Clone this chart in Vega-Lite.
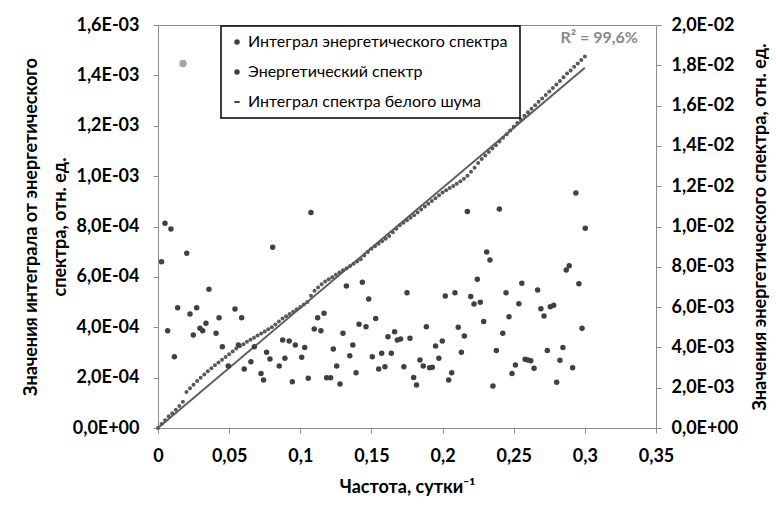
{
  "$schema": "https://vega.github.io/schema/vega-lite/v6.json",
  "autosize": {"type": "none"},
  "padding": {"left": 158, "top": 25, "right": 120, "bottom": 85},
  "width": 498,
  "height": 403,
  "background": "white",
  "config": {
    "font": "Lato",
    "view": {"stroke": "#8c8c8c", "strokeWidth": 1},
    "axis": {
      "grid": false,
      "domainColor": "#8c8c8c",
      "tickColor": "#8c8c8c",
      "tickSize": 5,
      "labelFont": "Lato",
      "labelFontWeight": "bold",
      "labelFontSize": 18,
      "labelColor": "#000000",
      "labelFlush": false,
      "labelOverlap": false,
      "titleFont": "Lato",
      "titleFontWeight": "bold",
      "titleFontSize": 18,
      "titleColor": "#000000"
    },
    "legend": {
      "orient": "none",
      "legendX": 63,
      "legendY": 1,
      "padding": 8,
      "strokeColor": "#000000",
      "strokeWidth": 1.5,
      "fillColor": "#ffffff",
      "labelFont": "Lato",
      "labelFontSize": 16,
      "labelLimit": 400,
      "labelColor": "#000000",
      "labelOffset": 3,
      "rowPadding": 14
    }
  },
  "datasets": {
    "integral": [
      {"f": 0, "v": 0},
      {"f": 0.0025, "v": 0.016e-3},
      {"f": 0.005, "v": 0.031e-3},
      {"f": 0.0075, "v": 0.047e-3},
      {"f": 0.01, "v": 0.059e-3},
      {"f": 0.0125, "v": 0.072e-3},
      {"f": 0.015, "v": 0.087e-3},
      {"f": 0.0175, "v": 0.104e-3},
      {"f": 0.02, "v": 0.143e-3},
      {"f": 0.0225, "v": 0.158e-3},
      {"f": 0.025, "v": 0.172e-3},
      {"f": 0.0275, "v": 0.187e-3},
      {"f": 0.03, "v": 0.2e-3},
      {"f": 0.0325, "v": 0.212e-3},
      {"f": 0.035, "v": 0.225e-3},
      {"f": 0.0375, "v": 0.237e-3},
      {"f": 0.04, "v": 0.249e-3},
      {"f": 0.0425, "v": 0.26e-3},
      {"f": 0.045, "v": 0.271e-3},
      {"f": 0.0475, "v": 0.282e-3},
      {"f": 0.05, "v": 0.293e-3},
      {"f": 0.0525, "v": 0.304e-3},
      {"f": 0.055, "v": 0.316e-3},
      {"f": 0.0575, "v": 0.325e-3},
      {"f": 0.06, "v": 0.333e-3},
      {"f": 0.0625, "v": 0.342e-3},
      {"f": 0.065, "v": 0.35e-3},
      {"f": 0.0675, "v": 0.358e-3},
      {"f": 0.07, "v": 0.367e-3},
      {"f": 0.0725, "v": 0.375e-3},
      {"f": 0.075, "v": 0.383e-3},
      {"f": 0.0775, "v": 0.392e-3},
      {"f": 0.08, "v": 0.4e-3},
      {"f": 0.0825, "v": 0.411e-3},
      {"f": 0.085, "v": 0.423e-3},
      {"f": 0.0875, "v": 0.435e-3},
      {"f": 0.09, "v": 0.444e-3},
      {"f": 0.0925, "v": 0.453e-3},
      {"f": 0.095, "v": 0.462e-3},
      {"f": 0.0975, "v": 0.471e-3},
      {"f": 0.1, "v": 0.48e-3},
      {"f": 0.1025, "v": 0.49e-3},
      {"f": 0.105, "v": 0.5e-3},
      {"f": 0.1075, "v": 0.525e-3},
      {"f": 0.11, "v": 0.545e-3},
      {"f": 0.1125, "v": 0.558e-3},
      {"f": 0.115, "v": 0.571e-3},
      {"f": 0.1175, "v": 0.582e-3},
      {"f": 0.12, "v": 0.591e-3},
      {"f": 0.1225, "v": 0.599e-3},
      {"f": 0.125, "v": 0.608e-3},
      {"f": 0.1275, "v": 0.617e-3},
      {"f": 0.13, "v": 0.626e-3},
      {"f": 0.1325, "v": 0.634e-3},
      {"f": 0.135, "v": 0.643e-3},
      {"f": 0.1375, "v": 0.652e-3},
      {"f": 0.14, "v": 0.661e-3},
      {"f": 0.1425, "v": 0.67e-3},
      {"f": 0.145, "v": 0.685e-3},
      {"f": 0.1475, "v": 0.699e-3},
      {"f": 0.15, "v": 0.712e-3},
      {"f": 0.1525, "v": 0.722e-3},
      {"f": 0.155, "v": 0.732e-3},
      {"f": 0.1575, "v": 0.741e-3},
      {"f": 0.16, "v": 0.751e-3},
      {"f": 0.1625, "v": 0.762e-3},
      {"f": 0.165, "v": 0.777e-3},
      {"f": 0.1675, "v": 0.791e-3},
      {"f": 0.17, "v": 0.805e-3},
      {"f": 0.1725, "v": 0.815e-3},
      {"f": 0.175, "v": 0.825e-3},
      {"f": 0.1775, "v": 0.835e-3},
      {"f": 0.18, "v": 0.845e-3},
      {"f": 0.1825, "v": 0.856e-3},
      {"f": 0.185, "v": 0.867e-3},
      {"f": 0.1875, "v": 0.879e-3},
      {"f": 0.19, "v": 0.89e-3},
      {"f": 0.1925, "v": 0.901e-3},
      {"f": 0.195, "v": 0.912e-3},
      {"f": 0.1975, "v": 0.924e-3},
      {"f": 0.2, "v": 0.935e-3},
      {"f": 0.2025, "v": 0.944e-3},
      {"f": 0.205, "v": 0.953e-3},
      {"f": 0.2075, "v": 0.961e-3},
      {"f": 0.21, "v": 0.97e-3},
      {"f": 0.2125, "v": 0.98e-3},
      {"f": 0.215, "v": 0.99e-3},
      {"f": 0.2175, "v": 1.001e-3},
      {"f": 0.22, "v": 1.017e-3},
      {"f": 0.2225, "v": 1.033e-3},
      {"f": 0.225, "v": 1.052e-3},
      {"f": 0.2275, "v": 1.068e-3},
      {"f": 0.23, "v": 1.082e-3},
      {"f": 0.2325, "v": 1.096e-3},
      {"f": 0.235, "v": 1.11e-3},
      {"f": 0.2375, "v": 1.123e-3},
      {"f": 0.24, "v": 1.137e-3},
      {"f": 0.2425, "v": 1.152e-3},
      {"f": 0.245, "v": 1.166e-3},
      {"f": 0.2475, "v": 1.181e-3},
      {"f": 0.25, "v": 1.196e-3},
      {"f": 0.2525, "v": 1.211e-3},
      {"f": 0.255, "v": 1.225e-3},
      {"f": 0.2575, "v": 1.24e-3},
      {"f": 0.26, "v": 1.254e-3},
      {"f": 0.2625, "v": 1.267e-3},
      {"f": 0.265, "v": 1.281e-3},
      {"f": 0.2675, "v": 1.295e-3},
      {"f": 0.27, "v": 1.308e-3},
      {"f": 0.2725, "v": 1.322e-3},
      {"f": 0.275, "v": 1.336e-3},
      {"f": 0.2775, "v": 1.35e-3},
      {"f": 0.28, "v": 1.364e-3},
      {"f": 0.2825, "v": 1.378e-3},
      {"f": 0.285, "v": 1.393e-3},
      {"f": 0.2875, "v": 1.407e-3},
      {"f": 0.29, "v": 1.419e-3},
      {"f": 0.2925, "v": 1.434e-3},
      {"f": 0.295, "v": 1.447e-3},
      {"f": 0.2975, "v": 1.461e-3},
      {"f": 0.3, "v": 1.475e-3}
    ],
    "spectrum": [
      {"f": 0.0025, "v": 8.25e-3, "s": "b"},
      {"f": 0.0049, "v": 10.16e-3, "s": "b"},
      {"f": 0.0068, "v": 4.83e-3, "s": "b"},
      {"f": 0.0091, "v": 9.88e-3, "s": "b"},
      {"f": 0.0115, "v": 3.54e-3, "s": "b"},
      {"f": 0.0138, "v": 5.97e-3, "s": "b"},
      {"f": 0.0202, "v": 8.67e-3, "s": "b"},
      {"f": 0.0225, "v": 5.66e-3, "s": "b"},
      {"f": 0.0248, "v": 4.62e-3, "s": "b"},
      {"f": 0.0272, "v": 5.97e-3, "s": "b"},
      {"f": 0.0295, "v": 4.95e-3, "s": "b"},
      {"f": 0.0314, "v": 4.83e-3, "s": "b"},
      {"f": 0.0337, "v": 5.2e-3, "s": "b"},
      {"f": 0.0358, "v": 6.88e-3, "s": "b"},
      {"f": 0.0408, "v": 4.7e-3, "s": "b"},
      {"f": 0.0429, "v": 5.47e-3, "s": "b"},
      {"f": 0.0452, "v": 4.03e-3, "s": "b"},
      {"f": 0.0494, "v": 3.08e-3, "s": "b"},
      {"f": 0.0541, "v": 5.91e-3, "s": "b"},
      {"f": 0.0565, "v": 4.12e-3, "s": "b"},
      {"f": 0.0588, "v": 5.47e-3, "s": "b"},
      {"f": 0.0606, "v": 2.93e-3, "s": "b"},
      {"f": 0.0653, "v": 3.29e-3, "s": "b"},
      {"f": 0.0677, "v": 4.03e-3, "s": "b"},
      {"f": 0.0724, "v": 2.71e-3, "s": "b"},
      {"f": 0.0742, "v": 2.38e-3, "s": "b"},
      {"f": 0.0763, "v": 3.76e-3, "s": "b"},
      {"f": 0.0787, "v": 3.42e-3, "s": "b"},
      {"f": 0.0806, "v": 8.97e-3, "s": "b"},
      {"f": 0.0852, "v": 3.08e-3, "s": "b"},
      {"f": 0.0876, "v": 4.37e-3, "s": "b"},
      {"f": 0.0892, "v": 3.46e-3, "s": "b"},
      {"f": 0.0922, "v": 4.32e-3, "s": "b"},
      {"f": 0.0944, "v": 2.3e-3, "s": "b"},
      {"f": 0.0965, "v": 4.12e-3, "s": "b"},
      {"f": 0.101, "v": 3.51e-3, "s": "b"},
      {"f": 0.1031, "v": 4.0e-3, "s": "b"},
      {"f": 0.1056, "v": 2.47e-3, "s": "b"},
      {"f": 0.1075, "v": 10.7e-3, "s": "b"},
      {"f": 0.1098, "v": 4.91e-3, "s": "b"},
      {"f": 0.1122, "v": 5.47e-3, "s": "b"},
      {"f": 0.1145, "v": 4.83e-3, "s": "b"},
      {"f": 0.1167, "v": 5.69e-3, "s": "b"},
      {"f": 0.1185, "v": 2.5e-3, "s": "b"},
      {"f": 0.1213, "v": 2.5e-3, "s": "b"},
      {"f": 0.1232, "v": 3.92e-3, "s": "b"},
      {"f": 0.1256, "v": 3.08e-3, "s": "b"},
      {"f": 0.1279, "v": 2.18e-3, "s": "b"},
      {"f": 0.13, "v": 4.7e-3, "s": "b"},
      {"f": 0.1324, "v": 7.05e-3, "s": "b"},
      {"f": 0.1348, "v": 3.59e-3, "s": "b"},
      {"f": 0.1369, "v": 4.12e-3, "s": "b"},
      {"f": 0.1392, "v": 2.74e-3, "s": "b"},
      {"f": 0.1413, "v": 5.15e-3, "s": "b"},
      {"f": 0.1436, "v": 7.23e-3, "s": "b"},
      {"f": 0.1462, "v": 5.03e-3, "s": "b"},
      {"f": 0.1481, "v": 6.4e-3, "s": "b"},
      {"f": 0.1506, "v": 3.54e-3, "s": "b"},
      {"f": 0.153, "v": 5.44e-3, "s": "b"},
      {"f": 0.1551, "v": 2.93e-3, "s": "b"},
      {"f": 0.1572, "v": 3.71e-3, "s": "b"},
      {"f": 0.1595, "v": 3.04e-3, "s": "b"},
      {"f": 0.1616, "v": 4.53e-3, "s": "b"},
      {"f": 0.164, "v": 3.71e-3, "s": "b"},
      {"f": 0.1663, "v": 4.78e-3, "s": "b"},
      {"f": 0.1682, "v": 4.37e-3, "s": "b"},
      {"f": 0.1705, "v": 4.42e-3, "s": "b"},
      {"f": 0.1728, "v": 3.04e-3, "s": "b"},
      {"f": 0.175, "v": 6.71e-3, "s": "b"},
      {"f": 0.1771, "v": 4.45e-3, "s": "b"},
      {"f": 0.1797, "v": 2.51e-3, "s": "b"},
      {"f": 0.1817, "v": 2.13e-3, "s": "b"},
      {"f": 0.1841, "v": 3.37e-3, "s": "b"},
      {"f": 0.1864, "v": 3.08e-3, "s": "b"},
      {"f": 0.1886, "v": 5.03e-3, "s": "b"},
      {"f": 0.1909, "v": 2.99e-3, "s": "b"},
      {"f": 0.1928, "v": 3.01e-3, "s": "b"},
      {"f": 0.1951, "v": 4.07e-3, "s": "b"},
      {"f": 0.1974, "v": 3.46e-3, "s": "b"},
      {"f": 0.1998, "v": 4.32e-3, "s": "b"},
      {"f": 0.2019, "v": 6.55e-3, "s": "b"},
      {"f": 0.2043, "v": 2.38e-3, "s": "b"},
      {"f": 0.2064, "v": 2.74e-3, "s": "b"},
      {"f": 0.2087, "v": 6.71e-3, "s": "b"},
      {"f": 0.211, "v": 5.0e-3, "s": "b"},
      {"f": 0.2132, "v": 3.76e-3, "s": "b"},
      {"f": 0.2153, "v": 4.57e-3, "s": "b"},
      {"f": 0.2174, "v": 10.75e-3, "s": "b"},
      {"f": 0.2198, "v": 6.52e-3, "s": "b"},
      {"f": 0.2221, "v": 6.15e-3, "s": "b"},
      {"f": 0.2244, "v": 7.38e-3, "s": "b"},
      {"f": 0.2265, "v": 6.24e-3, "s": "b"},
      {"f": 0.2289, "v": 5.28e-3, "s": "b"},
      {"f": 0.231, "v": 8.73e-3, "s": "b"},
      {"f": 0.2333, "v": 8.34e-3, "s": "b"},
      {"f": 0.2354, "v": 2.08e-3, "s": "b"},
      {"f": 0.2378, "v": 3.84e-3, "s": "b"},
      {"f": 0.2399, "v": 10.87e-3, "s": "b"},
      {"f": 0.2423, "v": 4.7e-3, "s": "b"},
      {"f": 0.2446, "v": 6.71e-3, "s": "b"},
      {"f": 0.2467, "v": 5.52e-3, "s": "b"},
      {"f": 0.2488, "v": 2.71e-3, "s": "b"},
      {"f": 0.2512, "v": 3.13e-3, "s": "b"},
      {"f": 0.2536, "v": 6.17e-3, "s": "b"},
      {"f": 0.2557, "v": 7.18e-3, "s": "b"},
      {"f": 0.258, "v": 3.41e-3, "s": "b"},
      {"f": 0.2599, "v": 3.37e-3, "s": "b"},
      {"f": 0.262, "v": 3.34e-3, "s": "b"},
      {"f": 0.2643, "v": 2.96e-3, "s": "b"},
      {"f": 0.2668, "v": 6.85e-3, "s": "b"},
      {"f": 0.2691, "v": 5.92e-3, "s": "b"},
      {"f": 0.2713, "v": 5.56e-3, "s": "b"},
      {"f": 0.2736, "v": 3.84e-3, "s": "b"},
      {"f": 0.2757, "v": 6.02e-3, "s": "b"},
      {"f": 0.2781, "v": 6.09e-3, "s": "b"},
      {"f": 0.2802, "v": 2.27e-3, "s": "b"},
      {"f": 0.2825, "v": 3.36e-3, "s": "b"},
      {"f": 0.2846, "v": 4.0e-3, "s": "b"},
      {"f": 0.2869, "v": 7.84e-3, "s": "b"},
      {"f": 0.289, "v": 8.05e-3, "s": "b"},
      {"f": 0.2914, "v": 2.99e-3, "s": "b"},
      {"f": 0.2937, "v": 11.66e-3, "s": "b"},
      {"f": 0.2958, "v": 7.16e-3, "s": "b"},
      {"f": 0.298, "v": 4.95e-3, "s": "b"},
      {"f": 0.3003, "v": 9.91e-3, "s": "b"}
    ],
    "white": [
      {"f": 0, "v": 0},
      {"f": 0.3, "v": 1.43e-3}
    ],
    "marker": [
      {"f": 0.0176, "v": 1.447e-3}
    ],
    "note": [
      {"f": 0.3373, "v": 1.547e-3, "t": "R² = 99,6%"}
    ]
  },
  "layer": [
    {
      "layer": [
        {
          "data": {"name": "white"},
          "mark": {"type": "line", "color": "#5f5f5f", "strokeWidth": 2},
          "encoding": {
            "x": {
              "field": "f", "type": "quantitative",
              "scale": {"domain": [0, 0.35], "nice": false, "zero": false},
              "axis": {
                "title": "Частота, сутки⁻¹",
                "values": [0, 0.05, 0.1, 0.15, 0.2, 0.25, 0.3, 0.35],
                "labelExpr": "replace(format(datum.value, '~g'), '.', ',')",
                "labelPadding": 14,
                "titlePadding": 13
              }
            },
            "y": {
              "field": "v", "type": "quantitative",
              "scale": {"domain": [0, 0.0016], "nice": false},
              "axis": {
                "title": ["Значения интеграла от энергетического", "спектра, отн. ед."],
                "values": [0, 0.0002, 0.0004, 0.0006, 0.0008, 0.001, 0.0012, 0.0014, 0.0016],
                "labelExpr": "replace(replace(replace(format(datum.value, '.1e'), '.', ','), 'e-', 'E-0'), 'e+', 'E+0')",
                "labelPadding": 14,
                "titlePadding": 3,
                "titleLineHeight": 29
              }
            }
          }
        },
        {
          "data": {"name": "integral"},
          "mark": {"type": "point", "filled": true, "color": "#5a5a5a", "opacity": 1, "size": 16, "shape": "circle"},
          "encoding": {
            "x": {"field": "f", "type": "quantitative"},
            "y": {"field": "v", "type": "quantitative"}
          }
        },
        {
          "data": {"name": "marker"},
          "mark": {"type": "point", "filled": true, "color": "#a6a6a6", "opacity": 1, "size": 55},
          "encoding": {
            "x": {"field": "f", "type": "quantitative"},
            "y": {"field": "v", "type": "quantitative"}
          }
        },
        {
          "data": {"name": "note"},
          "mark": {"type": "text", "align": "right", "baseline": "middle", "font": "Lato", "fontWeight": "bold", "fontSize": 16, "color": "#888888"},
          "encoding": {
            "x": {"field": "f", "type": "quantitative"},
            "y": {"field": "v", "type": "quantitative"},
            "text": {"field": "t"}
          }
        }
      ]
    },
    {
      "data": {"name": "spectrum"},
      "mark": {"type": "point", "filled": true, "color": "#404040", "fill": "#404040", "stroke": "#404040", "strokeWidth": 1.5, "opacity": 1},
      "encoding": {
        "x": {"field": "f", "type": "quantitative"},
        "y": {
          "field": "v", "type": "quantitative",
          "scale": {"domain": [0, 0.02], "nice": false},
          "axis": {
            "orient": "right",
            "title": "Значения энергетического спектра, отн. ед.",
            "titleAngle": 270,
            "values": [0, 0.002, 0.004, 0.006, 0.008, 0.01, 0.012, 0.014, 0.016, 0.018, 0.02],
            "labelExpr": "replace(replace(replace(format(datum.value, '.1e'), '.', ','), 'e-', 'E-0'), 'e+', 'E+0')",
            "labelPadding": 10,
            "titlePadding": 32
          }
        },
        "shape": {
          "field": "s", "type": "nominal",
          "scale": {"domain": ["a", "b", "c"], "range": ["circle", "circle", "M-1,-0.09H1V0.09H-1Z"]},
          "legend": {
            "title": null,
            "labelExpr": "datum.label == 'a' ? 'Интеграл энергетического  спектра' : datum.label == 'b' ? 'Энергетический  спектр' : 'Интеграл спектра белого шума'"
          }
        },
        "size": {
          "field": "s", "type": "nominal",
          "scale": {"domain": ["a", "b", "c"], "range": [16, 16, 520]},
          "legend": {
            "title": null,
            "labelExpr": "datum.label == 'a' ? 'Интеграл энергетического  спектра' : datum.label == 'b' ? 'Энергетический  спектр' : 'Интеграл спектра белого шума'"
          }
        }
      }
    }
  ],
  "resolve": {"scale": {"y": "independent"}}
}
